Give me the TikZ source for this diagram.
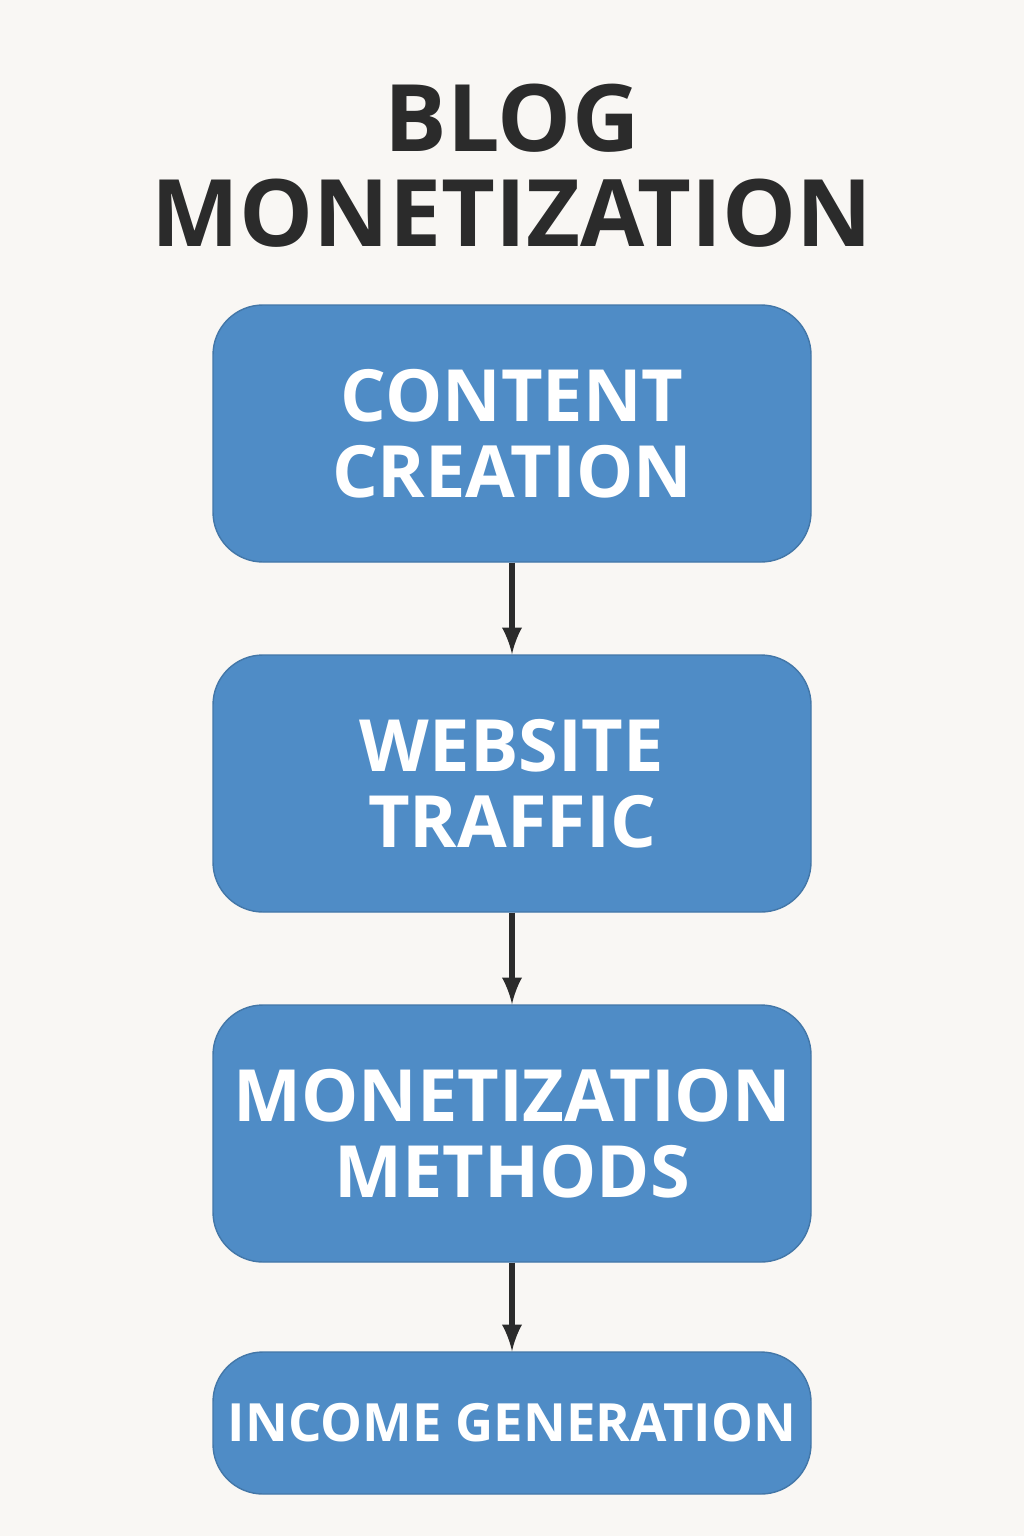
\documentclass[tikz,border=0pt]{standalone}
\usepackage{fontspec}
\setmainfont{Open Sans}
\usetikzlibrary{positioning}
\tikzset{>=latex}
\definecolor{bgcol}{HTML}{F9F7F4}
\definecolor{boxblue}{HTML}{4F8CC6}
\definecolor{inkcol}{HTML}{2B2B2B}
\tikzset{stepbox/.style={draw=boxblue!85!black, fill=boxblue, rounded corners=0.5cm, minimum width=5.98cm, align=center, text=white, font=\bfseries\fontsize{20.5}{21.5}\selectfont}}
\begin{document}
\begin{tikzpicture}
      \fill[bgcol] (0,0) rectangle (10.24,-15.36);
      \useasboundingbox (0,0) rectangle (10.24,-15.36);
      \node[text=inkcol, align=center, font=\bfseries\fontsize{26.5}{27}\selectfont] (title) at (5.12,-1.66) {BLOG\\MONETIZATION};
      \node[stepbox, minimum height=2.57cm] (n1) at (5.12,-4.335) {CONTENT\\CREATION};
      \node[stepbox, below of=n1, node distance=3.5cm, minimum height=2.57cm] (n2) {WEBSITE\\TRAFFIC};
      \node[stepbox, below of=n2, node distance=3.5cm, minimum height=2.57cm] (n3) {MONETIZATION\\METHODS};
      \node[stepbox, below of=n3, node distance=2.895cm, minimum height=1.42cm, font=\bfseries\fontsize{15}{16}\selectfont] (n4) {INCOME GENERATION};
      \draw[->, inkcol, line width=1.6pt] (n1) -- (n2);
      \draw[->, inkcol, line width=1.6pt] (n2) -- (n3);
      \draw[->, inkcol, line width=1.6pt] (n3) -- (n4);
    \end{tikzpicture}
\end{document}
